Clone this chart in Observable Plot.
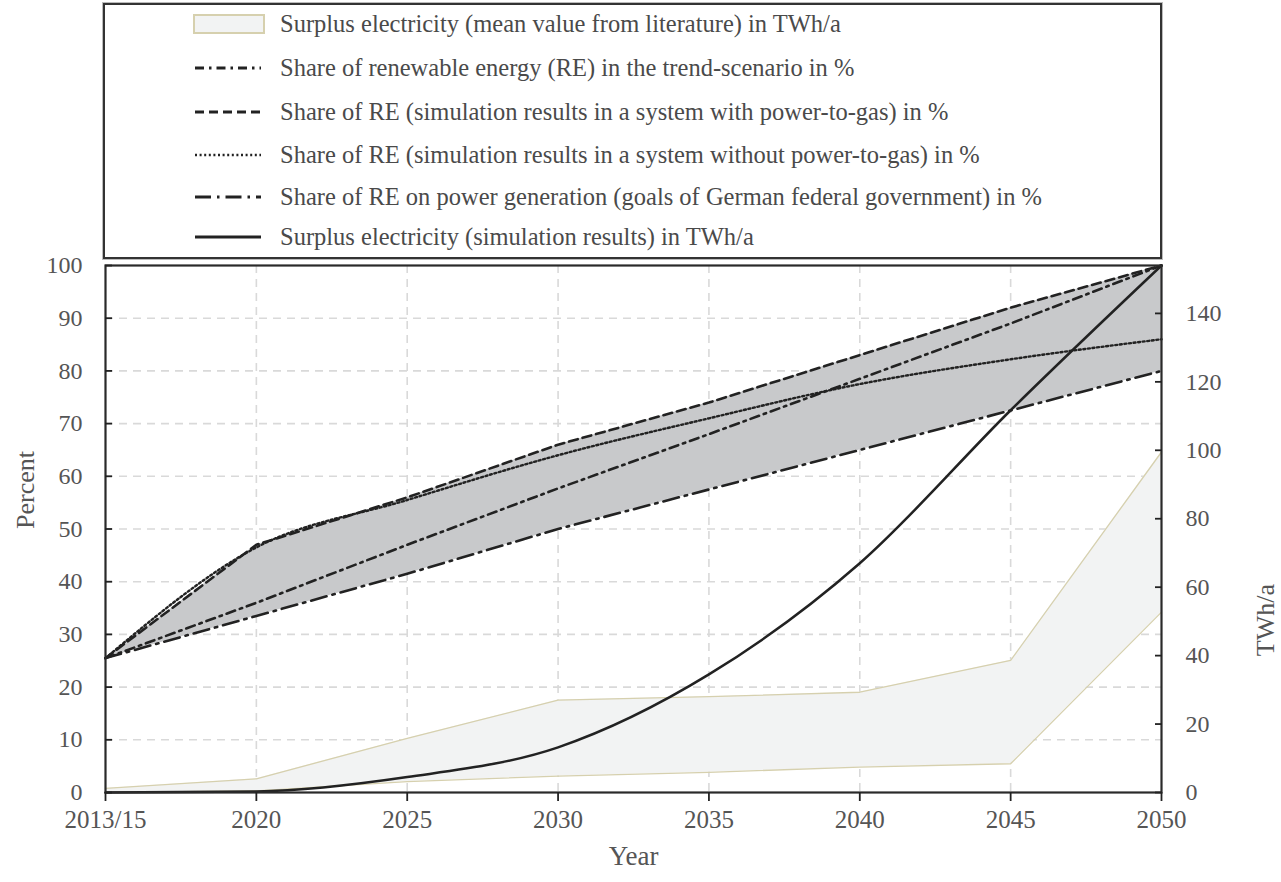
<!DOCTYPE html>
<html>
<head>
<meta charset="utf-8">
<script src="https://cdn.jsdelivr.net/npm/d3@7"></script>
<script src="https://cdn.jsdelivr.net/npm/@observablehq/plot@0.6"></script>
<style>
  html, body { margin: 0; padding: 0; background: #fff; }
  body { width: 1281px; height: 882px; position: relative; overflow: hidden; font-family: "Liberation Serif", "DejaVu Serif", serif; }
  #legend { position: absolute; z-index: 2; left: 103px; top: 3px; width: 1055px; height: 252px; border: 2px solid #333; box-shadow: 0 0 0 1px #bbb; background: #fff; }
  .row { position: absolute; left: 0; height: 30px; display: flex; align-items: center; }
  .row svg { margin-left: 88px; width: 72px; height: 22px; }
  .row span { margin-left: 15px; font-size: 24.5px; color: #4a4a4a; white-space: nowrap; }
  #chart { position: absolute; z-index: 1; left: 0; top: 228px; }
</style>
</head>
<body>
<div id="legend"></div>
<div id="chart"></div>
<script>
// ---- data ----
const years = [2015, 2020, 2025, 2030, 2035, 2040, 2045, 2050];
const yearLabels = ["2013/15", "2020", "2025", "2030", "2035", "2040", "2045", "2050"];
const reTrend = [25.5, 36, 47, 57.7, 68, 78.5, 89, 100];
const reWithP2G = [25.5, 47, 56, 66, 74, 83, 92, 100];
const reWithoutP2G = [25.5, 46.5, 55.5, 64, 71, 77.5, 82.2, 86];
const reGoals = [25.5, 33.5, 41.5, 50, 57.5, 65, 72.5, 80];
const surplusSim = [0, 0.3, 4.5, 13.2, 34.5, 67, 111.7, 154];
const litLow = [0, 0.5, 3.2, 4.8, 5.9, 7.4, 8.4, 52.7];
const litHigh = [1.2, 4, 15.8, 27, 28, 29.3, 38.6, 99.5];
const percentTicks = [0, 10, 20, 30, 40, 50, 60, 70, 80, 90, 100];
const twhTicks = [0, 20, 40, 60, 80, 100, 120, 140];
const twhMax = 154;
const legendLabels = [
  "Surplus electricity (mean value from literature) in TWh/a",
  "Share of renewable energy (RE) in the trend-scenario in %",
  "Share of RE (simulation results in a system with power-to-gas) in %",
  "Share of RE (simulation results in a system without power-to-gas) in %",
  "Share of RE on power generation (goals of German federal government) in %",
  "Surplus electricity (simulation results) in TWh/a"
];

// ---- styles ----
const ink = "#222";
const dashTrend = "9,5,2.5,5";
const dashP2G = "9,5";
const dashNoP2G = "2,2.6";
const dashGoals = "16,6,2.5,6";
const litFill = "#f2f3f3";
const litStroke = "#d6d0ae";
const bandFill = "#c8c9cb";

const k = 100 / twhMax;
const rows = years.map((year, i) => ({
  year,
  trend: reTrend[i],
  p2g: reWithP2G[i],
  noP2g: reWithoutP2G[i],
  goals: reGoals[i],
  sim: surplusSim[i] * k,
  low: litLow[i] * k,
  high: litHigh[i] * k
}));

// ---- legend ----
const legendStyles = [
  {type: "rect"},
  {dash: dashTrend, w: 3},
  {dash: dashP2G, w: 3},
  {dash: dashNoP2G, w: 2.6},
  {dash: dashGoals, w: 3},
  {dash: null, w: 3}
];
const rowTops = [4, 48, 92, 135, 177, 217];
const legend = document.getElementById("legend");
legendLabels.forEach((lab, i) => {
  const st = legendStyles[i];
  const row = document.createElement("div");
  row.className = "row";
  row.style.top = rowTops[i] + "px";
  let sw;
  if (st.type === "rect") {
    sw = `<svg viewBox="0 0 72 22"><rect x="1" y="2" width="70" height="18" fill="${litFill}" stroke="${litStroke}" stroke-width="2"/></svg>`;
  } else {
    sw = `<svg viewBox="0 0 72 22"><line x1="2" x2="68" y1="11" y2="11" stroke="${ink}" stroke-width="${st.w}" ${st.dash ? `stroke-dasharray="${st.dash}"` : ""}/></svg>`;
  }
  row.innerHTML = sw + `<span>${lab}</span>`;
  legend.appendChild(row);
});

// ---- chart ----
const gridStyle = {stroke: "#d9d9d9", strokeWidth: 1.6, strokeDasharray: "8,6"};
const chart = Plot.plot({
  width: 1281,
  height: 654,
  marginTop: 37,
  marginBottom: 90,
  marginLeft: 105,
  marginRight: 120,
  style: {fontFamily: "Liberation Serif, serif", color: "#555", background: "transparent"},
  x: {type: "linear", domain: [2015, 2050]},
  y: {domain: [0, 100]},
  marks: [
    Plot.ruleX(years.slice(1, -1), gridStyle),
    Plot.ruleY(percentTicks.slice(1, -1), gridStyle),
    // literature band
    Plot.areaY(rows, {x: "year", y1: "low", y2: "high", fill: litFill}),
    Plot.line(rows, {x: "year", y: "low", stroke: litStroke, strokeWidth: 1.3}),
    Plot.line(rows, {x: "year", y: "high", stroke: litStroke, strokeWidth: 1.3}),
    // RE share band
    Plot.areaY(rows, {x: "year", y1: "goals", y2: "p2g", fill: bandFill}),
    Plot.line(rows, {x: "year", y: "goals", stroke: ink, strokeWidth: 2.6, strokeDasharray: dashGoals}),
    Plot.line(rows, {x: "year", y: "trend", stroke: ink, strokeWidth: 2.6, strokeDasharray: dashTrend}),
    Plot.line(rows, {x: "year", y: "noP2g", stroke: ink, strokeWidth: 2.4, strokeDasharray: dashNoP2G, curve: "monotone-x"}),
    Plot.line(rows, {x: "year", y: "p2g", stroke: ink, strokeWidth: 2.6, strokeDasharray: dashP2G}),
    // simulated surplus
    Plot.line(rows, {x: "year", y: "sim", stroke: ink, strokeWidth: 2.5, curve: "monotone-x"}),
    Plot.frame({stroke: "#2a2a2a", strokeWidth: 2.2}),
    // axes
    Plot.axisX({ticks: years, tickFormat: (d) => yearLabels[years.indexOf(d)], tickSize: 9, tickPadding: 9, fontSize: 25, stroke: ink, strokeWidth: 1.8, label: null}),
    Plot.axisY({anchor: "left", ticks: percentTicks, tickSize: -7, tickPadding: 30, fontSize: 24, stroke: ink, strokeWidth: 1.8, label: null}),
    Plot.axisY({anchor: "right", ticks: twhTicks.map((t) => t * k), tickFormat: (d) => String(Math.round(d / k)), tickSize: -7, tickPadding: 31, fontSize: 24, stroke: ink, strokeWidth: 1.8, label: null}),
    Plot.text(["Percent"], {frameAnchor: "left", dx: -80, rotate: -90, fontSize: 26, fill: "#555"}),
    Plot.text(["TWh/a"], {frameAnchor: "right", dx: 104, dy: 55, rotate: -90, fontSize: 26, fill: "#555"}),
    Plot.text(["Year"], {frameAnchor: "bottom", dy: 72, fontSize: 27, fill: "#555"})
  ]
});
document.getElementById("chart").appendChild(chart);
</script>
</body>
</html>
